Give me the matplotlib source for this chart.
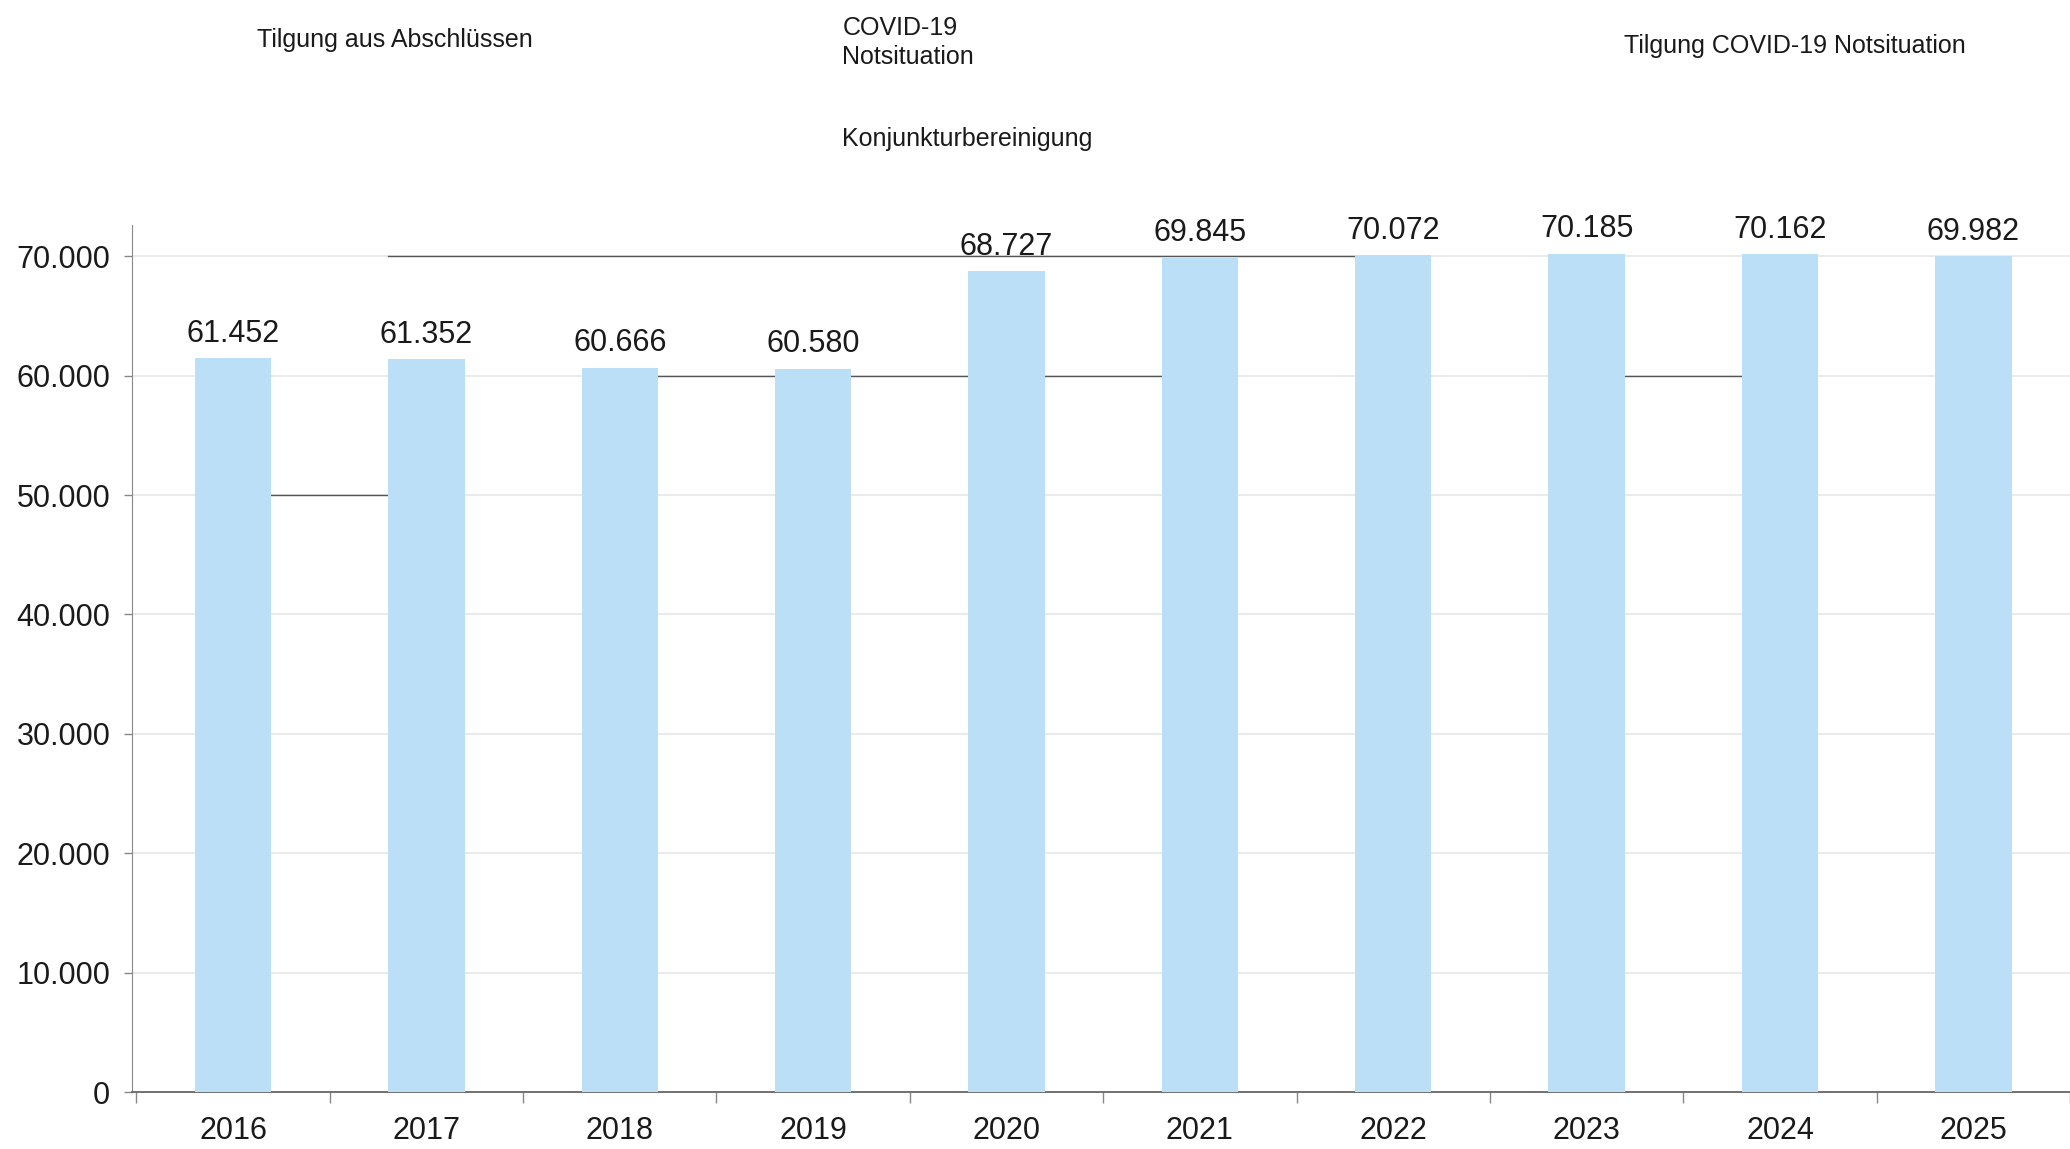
import matplotlib.pyplot as plt
import numpy as np

plt.rcParams['font.family'] = ['Liberation Sans', 'DejaVu Sans']

# data
years = ['2016', '2017', '2018', '2019', '2020', '2021', '2022', '2023', '2024', '2025']
values = [61452, 61352, 60666, 60580, 68727, 69845, 70072, 70185, 70162, 69982]
yticks = [0, 10000, 20000, 30000, 40000, 50000, 60000, 70000]

# legend captions at the top of the page (their colour keys are lost in the scan)
header_left = 'Tilgung aus Abschlüssen'
header_mid = 'COVID-19\nNotsituation'
header_mid2 = 'Konjunkturbereinigung'
header_right = 'Tilgung COVID-19 Notsituation'

# darker leftover gridline pieces in the scan:
# (level, start bar, start side, end bar) - they always end at the left edge of the end bar
dark_pieces = [(70000, 1, 'L', 6), (60000, 2, 'R', 5), (60000, 7, 'R', 8), (50000, 0, 'R', 1)]


def de_fmt(v):
    return f'{v:,.0f}'.replace(',', '.')


fig = plt.figure(figsize=(20.7, 11.49), dpi=100)
ax = fig.add_axes([0.064, 0.0496, 0.936, 0.7544])

x = np.arange(len(years))
bar_w = 0.395
bars = ax.bar(x, values, width=bar_w, color='#bcdff8', zorder=3)

for b, v in zip(bars, values):
    ax.annotate(de_fmt(v), (b.get_x() + b.get_width() / 2, b.get_height()),
                xytext=(0, 7), textcoords='offset points',
                ha='center', va='bottom', fontsize=22, color='#1a1a1a')

# gridlines
for yv in yticks[1:]:
    ax.axhline(yv, color='#e6e6e6', lw=1.2, zorder=1)
for lvl, a, side, b in dark_pieces:
    x0 = a - bar_w / 2 if side == 'L' else a + bar_w / 2
    ax.plot([x0, b - bar_w / 2], [lvl, lvl], color='#555555', lw=1.0, zorder=2)

ax.set_xlim(-0.52, 9.345)
ax.set_ylim(0, 72600)

ax.set_yticks(yticks)
ax.set_yticklabels([de_fmt(v) for v in yticks], fontsize=22, color='#1a1a1a')
ax.tick_params(axis='y', length=6, width=1, color='#888888', pad=10)

ax.set_xticks(x)
ax.set_xticklabels(years, fontsize=22, color='#1a1a1a')
ax.set_xticks(np.arange(-0.5, 9.6, 1), minor=True)
ax.tick_params(axis='x', which='major', length=0, pad=17)
ax.tick_params(axis='x', which='minor', length=8, width=1, color='#888888')

for s in ['top', 'right']:
    ax.spines[s].set_visible(False)
ax.spines['left'].set_color('#888888')
ax.spines['bottom'].set_color('#666666')
ax.spines['bottom'].set_linewidth(1.3)

fig.text(0.191, 0.965, header_left, ha='center', va='center', fontsize=18, color='#1a1a1a')
fig.text(0.407, 0.963, header_mid, ha='left', va='center', fontsize=18, color='#1a1a1a',
         linespacing=1.3)
fig.text(0.407, 0.879, header_mid2, ha='left', va='center', fontsize=18, color='#1a1a1a')
fig.text(0.867, 0.96, header_right, ha='center', va='center', fontsize=18, color='#1a1a1a')

fig.savefig('out.png', dpi=100)
